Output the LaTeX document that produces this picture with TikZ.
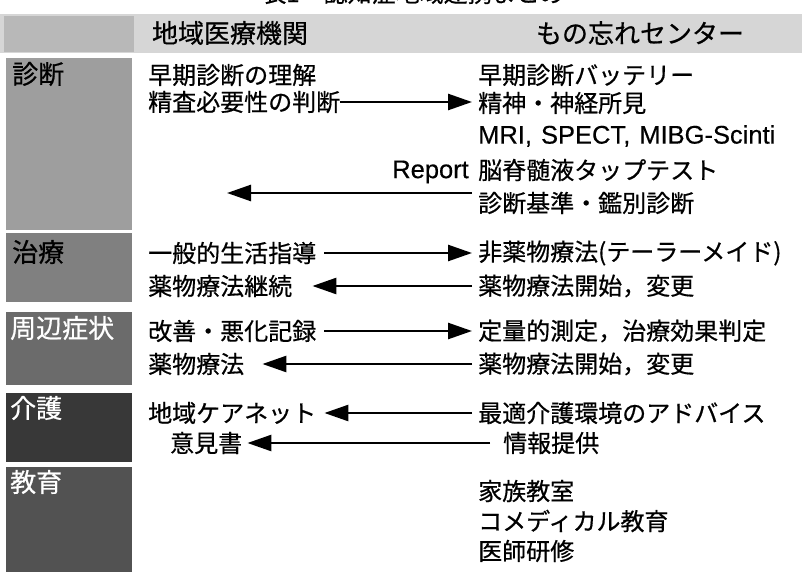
\documentclass[tikz,border=0pt]{standalone}
\usepackage{fontspec}
\setmainfont{Noto Sans CJK JP}[FakeBold=0.6]
\newfontfamily\lat{Liberation Sans}[FakeBold=0.4]
\usetikzlibrary{arrows.meta}
\begin{document}
\begin{tikzpicture}[x=1pt,y=-1pt,
  txt/.style={anchor=west,inner sep=0pt,font=\fontsize{24}{28}\selectfont},
  hdr/.style={inner sep=0pt,font=\fontsize{26}{30}\selectfont},
  cat/.style={anchor=west,inner sep=0pt,font=\fontsize{26}{30}\selectfont},
  latin/.style={inner sep=0pt,font=\lat\fontsize{25.5}{30}\selectfont},
  arr/.style={line width=2.6pt,-{Triangle[length=24pt,width=16pt]}},
]
\useasboundingbox (0,0) rectangle (802,572);
\clip (0,0) rectangle (802,572);
% title (cut off at the top, as in the original)
\node[hdr,font=\fontsize{24}{28}\selectfont] (title) at (413,-7) {表1　認知症地域連携まとめ};
% header band
\fill[black!16] (0,14) rectangle (802,53);
\fill[black!28] (4,16) rectangle (134,52);
\node[hdr] (h1) at (230,33) {地域医療機関};
\node[hdr] (h2) at (640,33) {もの忘れセンター};
% category boxes
\fill[black!38] (6,58) rectangle (132,230);
\fill[black!50] (6,233) rectangle (132,302);
\fill[black!58] (6,312) rectangle (132,385);
\fill[black!78] (6,393) rectangle (132,462);
\fill[black!68] (6,467) rectangle (132,572);
\node[cat] (c1) at (12,74) {診断};
\node[cat] (c2) at (12,252) {治療};
\node[cat,text=white] (c3) at (10,328) {周辺症状};
\node[cat,text=white] (c4) at (10,408) {介護};
\node[cat,text=white] (c5) at (10,482) {教育};
% left column
\node[txt] (l1) at (148,75) {早期診断の理解};
\node[txt] (l2) at (148,102) {精査必要性の判断};
\node[txt] (l3) at (148,253) {一般的生活指導};
\node[txt] (l4) at (148,286) {薬物療法継続};
\node[txt] (l5) at (148,331) {改善・悪化記録};
\node[txt] (l6) at (148,364) {薬物療法};
\node[txt] (l7) at (148,413) {地域ケアネット};
\node[txt] (l8) at (170,443) {意見書};
% right column
\node[txt] (r1) at (478,75) {早期診断バッテリー};
\node[txt] (r2) at (478,103) {精神・神経所見};
\node[latin,anchor=west] (r3) at (478,136) {MRI,\hspace{9pt}SPECT,\hspace{9pt}MIBG-Scinti};
\node[txt] (r4) at (478,170) {脳脊髄液タップテスト};
\node[txt] (r5) at (478,203) {診断基準・鑑別診断};
\node[txt] (r6) at (478,253) {非薬物療法(テーラーメイド)};
\node[txt] (r7) at (478,286) {薬物療法開始，変更};
\node[txt] (r8) at (478,331) {定量的測定，治療効果判定};
\node[txt] (r9) at (478,364) {薬物療法開始，変更};
\node[txt] (r10) at (478,413) {最適介護環境のアドバイス};
\node[txt] (r11) at (503,443) {情報提供};
\node[txt] (r12) at (478,491) {家族教室};
\node[txt] (r13) at (478,521) {コメディカル教育};
\node[txt] (r14) at (478,551) {医師研修};
% Report
\node[latin,anchor=east] (rep) at (469,172) {Report};
\coordinate (repR) at (472,193);
\coordinate (repL) at (227,193);
% arrows
\draw[arr,shorten >=6pt] (l2.east) -- (l2.east -| r2.west);
\draw[arr] (repR) -- (repL);
\draw[arr,shorten >=6pt] ([xshift=8pt]l3.east) -- (l3.east -| r6.west);
\draw[arr] ([xshift=-6pt]r7.west) -- ([xshift=20pt]r7.west -| l4.east);
\draw[arr,shorten >=6pt] ([xshift=8pt]l5.east) -- (l5.east -| r8.west);
\draw[arr] ([xshift=-6pt]r9.west) -- ([xshift=18pt]r9.west -| l6.east);
\draw[arr] ([xshift=-6pt]r10.west) -- ([xshift=8pt]r10.west -| l7.east);
\draw[arr] ([xshift=-13pt]r11.west) -- ([xshift=5pt]r11.west -| l8.east);
\end{tikzpicture}
\end{document}
